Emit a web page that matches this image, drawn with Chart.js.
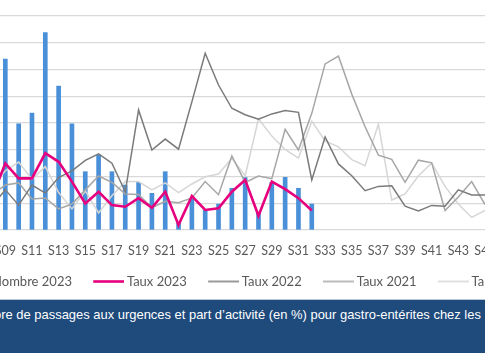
<!DOCTYPE html>
<html lang="fr">
<head>
<meta charset="utf-8">
<title>Passages aux urgences pour gastro-entérites</title>
<script src="https://cdn.jsdelivr.net/npm/chart.js@4.4.1/dist/chart.umd.min.js"></script>
<style>
  html, body { margin: 0; padding: 0; background: #fff; }
  body { width: 485px; height: 360px; overflow: hidden; position: relative; }
  /* the original chart is wider than the picture: its axes sit outside the crop */
  #wrap { position: absolute; top: 0; left: -100px; width: 714px; height: 299px; }
  .banner {
    position: absolute; left: 0; top: 299px; width: 485px; height: 54px;
    background: #1e4a7c; border-top: 1px solid #b9c7d9; box-sizing: border-box;
    overflow: hidden; white-space: nowrap;
  }
  .banner span.txt {
    position: absolute; top: 7px; left: 0;
    font: 12.95px 'Liberation Sans', Arial, sans-serif; color: #fff; line-height: 16px;
  }
</style>
</head>
<body>
<div id="wrap"><canvas id="chart"></canvas></div>
<div class="banner"><span class="txt" id="caption"><span id="cut">Nomb</span>re de passages aux urgences et part d’activité (en %) pour gastro-entérites chez les</span></div>

<script>
'use strict';

// weeks S08 → S45 (the picture shows S09 … S45, S08 only feeds the segments at the left edge)
const weeks = ['S08', 'S09', 'S10', 'S11', 'S12', 'S13', 'S14', 'S15', 'S16', 'S17',
               'S18', 'S19', 'S20', 'S21', 'S22', 'S23', 'S24', 'S25', 'S26', 'S27',
               'S28', 'S29', 'S30', 'S31', 'S32', 'S33', 'S34', 'S35', 'S36', 'S37',
               'S38', 'S39', 'S40', 'S41', 'S42', 'S43', 'S44', 'S45'];
const FIRST_WEEK = 8;

// Nombre de passages 2023
const nombre2023 = [null, 639, 397, 437, 738, 538, 397, 218, 280, 218,
                    168, 178, 137, 218, 25, 116, 75, 97, 156, 196,
                    67, 178, 197, 156, 97, null, null, null, null, null,
                    null, null, null, null, null, null, null, null];

// Taux (part d'activité, %)
const taux2023 = [1.23, 2.49, 1.93, 1.93, 2.87, 2.55, 1.81, 0.99, 1.43, 0.93,
                  0.87, 1.19, 0.83, 1.43, 0.19, 1.27, 0.75, 0.81, 1.43, 1.87,
                  0.53, 1.81, 1.53, 1.19, 0.73, null, null, null, null, null,
                  null, null, null, null, null, null, null, null];
const taux2022 = [0.90, 1.50, 0.93, 1.68, 1.38, 1.96, 2.21, 2.60, 2.85, 2.50,
                  1.43, 4.49, 2.99, 3.40, 3.02, 4.79, 6.61, 5.42, 4.55, 4.31,
                  4.14, 4.34, 4.47, 4.40, 1.87, 3.48, 2.47, 2.03, 1.47, 1.63,
                  1.65, 0.89, 0.71, 0.92, 0.89, 1.50, 1.31, 1.31];
const taux2021 = [1.32, 1.68, 1.76, 1.16, 1.20, 0.79, 0.97, 1.50, 2.02, 1.78,
                  1.35, 1.33, 0.83, 1.07, 1.02, 1.20, 1.81, 1.32, 2.77, 1.78,
                  2.02, 1.92, 3.76, 2.99, 4.36, 6.21, 6.50, 5.08, 3.86, 2.80,
                  2.64, 1.78, 2.61, 2.51, 0.73, 1.23, 1.81, 0.95];
const taux2020 = [1.61, 2.21, 2.54, 1.89, 2.37, 1.40, 0.79, 1.46, 0.64, 1.28,
                  1.81, 1.81, 1.50, 1.76, 1.40, 1.72, 1.99, 2.09, 2.68, 2.03,
                  4.16, 3.51, 3.01, 2.69, 4.07, 3.33, 3.11, 2.63, 2.40, 3.96,
                  1.12, 1.35, 2.02, 2.51, 1.63, 0.97, 0.47, 0.73];

// only odd weeks get a tick label
const tickWeeks = ['S09', 'S11', 'S13', 'S15', 'S17', 'S19', 'S21', 'S23', 'S25', 'S27',
                   'S29', 'S31', 'S33', 'S35', 'S37', 'S39', 'S41', 'S43', 'S45'];

const toPoints = arr => arr.map((y, i) => ({ x: FIRST_WEEK + i, y }));

// crop the caption so it starts on "re de passages…"
document.getElementById('caption').style.left = (1.7 - document.getElementById('cut').offsetWidth) + 'px';

const TXT = '#595959';

// legend samples, centred on the legend box: a 31px stroke that ends just before the text
const lineSample = (color, h) => {
  const c = document.createElement('canvas');
  c.width = 39; c.height = Math.ceil(h) + 2;
  const g = c.getContext('2d');
  g.fillStyle = color;
  g.fillRect(8, (c.height - h) / 2, 31, h);
  return c;
};
const boxSample = color => {
  const c = document.createElement('canvas');
  c.width = 39; c.height = 8;
  const g = c.getContext('2d');
  g.fillStyle = color;
  g.fillRect(28, 0, 8, 8);
  return c;
};

new Chart(document.getElementById('chart'), {
  type: 'bar',
  data: {
    datasets: [
      {
        label: 'Nombre 2023',
        data: toPoints(nombre2023),
        yAxisID: 'y',
        backgroundColor: '#4a90d9',
        barThickness: 4,
        order: 10,
      },
      {
        type: 'line',
        label: 'Taux 2023',
        data: toPoints(taux2023),
        yAxisID: 'y1',
        borderColor: '#e6007e',
        borderWidth: 2.6,
        pointRadius: 0,
        tension: 0,
        order: 0,
      },
      {
        type: 'line',
        label: 'Taux 2022',
        data: toPoints(taux2022),
        yAxisID: 'y1',
        borderColor: '#7a7a7a',
        borderWidth: 1.5,
        pointRadius: 0,
        tension: 0,
        order: 1,
      },
      {
        type: 'line',
        label: 'Taux 2021',
        data: toPoints(taux2021),
        yAxisID: 'y1',
        borderColor: '#a6a6a6',
        borderWidth: 1.5,
        pointRadius: 0,
        tension: 0,
        order: 2,
      },
      {
        type: 'line',
        label: 'Taux 2020',
        data: toPoints(taux2020),
        yAxisID: 'y1',
        borderColor: '#d6d6d6',
        borderWidth: 1.5,
        pointRadius: 0,
        tension: 0,
        order: 3,
      },
    ]
  },
  options: {
    responsive: true,
    maintainAspectRatio: false,
    animation: false,
    layout: { padding: { left: 20, right: 48.5, top: 16, bottom: 1 } },
    plugins: {
      tooltip: { enabled: false },
      legend: {
        position: 'bottom',
        labels: {
          font: { family: 'Lato', size: 13 },
          color: TXT,
          usePointStyle: true,
          pointStyleWidth: 31.5,
          boxHeight: 13,
          padding: 17,
          generateLabels: chart => chart.data.datasets.map((ds, i) => ({
            text: ds.label,
            pointStyle: ds.type === 'line'
              ? lineSample(ds.borderColor, ds.borderWidth)
              : boxSample(ds.backgroundColor),
            fillStyle: ds.borderColor || ds.backgroundColor,
            strokeStyle: ds.borderColor || ds.backgroundColor,
            lineWidth: 0,
            fontColor: TXT,
            datasetIndex: i,
          })),
        }
      }
    },
    scales: {
      x: {
        type: 'linear',
        min: 8.6,
        max: 45.0,
        offset: false,
        grid: { display: false, drawTicks: false },
        border: { display: false },
        afterBuildTicks: scale => {
          scale.ticks = tickWeeks.map(w => ({ value: weeks.indexOf(w) + FIRST_WEEK }));
        },
        afterFit: s => { s.height = 28; },
        ticks: {
          autoSkip: false,
          maxRotation: 0,
          padding: 13,
          color: TXT,
          font: { family: 'Lato', size: 12.5 },
          callback: v => weeks[v - FIRST_WEEK],
        }
      },
      y: {
        position: 'left',
        min: 0,
        max: 800,
        ticks: { display: false, stepSize: 100 },
        grid: { color: '#d9d9d9', lineWidth: 1.3, drawTicks: false },
        border: { display: false },
        afterFit: s => { s.width = 80; },
      },
      y1: {
        position: 'right',
        min: 0,
        max: 8,
        ticks: { display: false, stepSize: 1 },
        grid: { display: false, drawTicks: false },
        border: { display: false },
        afterFit: s => { s.width = 80.5; },
      }
    }
  }
});
</script>
</body>
</html>
